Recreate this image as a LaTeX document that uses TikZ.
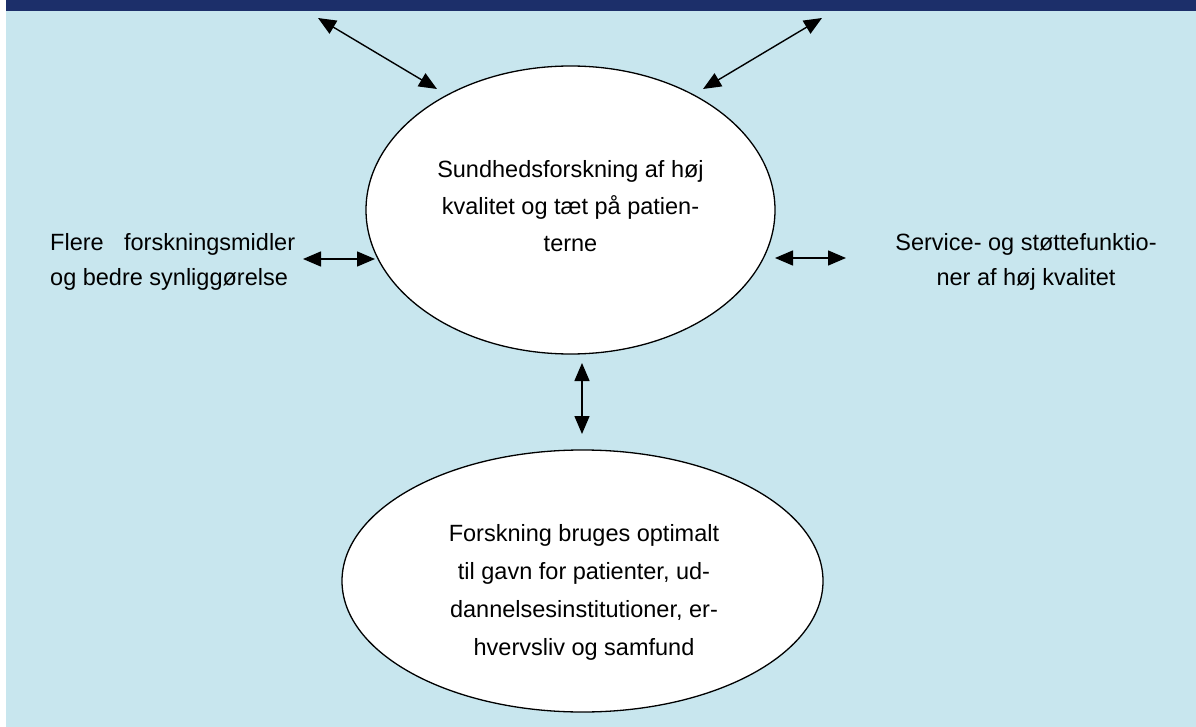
\documentclass[tikz,border=0pt]{standalone}
\usepackage{fontspec}
\setmainfont{Liberation Sans}
\usetikzlibrary{arrows.meta,shapes.geometric}
\definecolor{panel}{RGB}{200,230,238}
\definecolor{band}{RGB}{28,47,106}
\begin{document}
\begin{tikzpicture}[x=1pt,y=-1pt,
  bubble/.style={draw=black,line width=1.3pt,fill=white,ellipse,inner sep=0pt},
  txt/.style={font=\fontsize{23.5}{37}\selectfont,align=center,inner sep=0pt,anchor=base},
  sidetxt/.style={font=\fontsize{23.5}{35.5}\selectfont,inner sep=0pt,anchor=base},
  link/.style={{Triangle[length=18pt,width=15pt]}-{Triangle[length=18pt,width=15pt]},line width=1.4pt}]
\useasboundingbox (0,0) rectangle (1196,727);
% background panel and header band
\fill[white] (0,0) rectangle (1196,727);
\fill[panel] (6,11) rectangle (1196,727);
\fill[band] (6,0) rectangle (1196,11);

% the two bubbles
\node[bubble,minimum width=409pt,minimum height=288pt] (core) at (570.5,210) {};
\node[bubble,minimum width=481pt,minimum height=262pt] (use) at (582.5,581) {};

% texts are anchored at the baseline of their last line
\node[txt] (coretext) at (570.5,252)
  {Sundhedsforskning af høj\\kvalitet og tæt på patien-\\terne};
\node[txt,font=\fontsize{23.5}{37.8}\selectfont] (usetext) at (584,655)
  {Forskning bruges optimalt\\til gavn for patienter, ud-\\dannelsesinstitutioner, er-\\hvervsliv og samfund};

% side goals
\node[sidetxt,anchor=base west,align=left] (funds) at (50,285.7)
  {\makebox[245pt][s]{Flere\hfill forskningsmidler}\\og bedre synliggørelse};
\node[sidetxt,align=center] (service) at (1026,285.7)
  {Service- og støttefunktio-\\ner af høj kvalitet};

% connectors
\coordinate (ulA) at (318,18);  \coordinate (ulB) at (437,89);
\coordinate (urA) at (822,18);  \coordinate (urB) at (703,89);
\coordinate (lA) at (303,259);  \coordinate (lB) at (375,259);
\coordinate (rA) at (775,258);  \coordinate (rB) at (846,258);
\coordinate (vA) at (582,363);  \coordinate (vB) at (582,434);
\draw[link] (ulA) -- (ulB);
\draw[link] (urA) -- (urB);
\draw[link] (lA) -- (lB);
\draw[link] (rA) -- (rB);
\draw[link] (vA) -- (vB);
\end{tikzpicture}
\end{document}
